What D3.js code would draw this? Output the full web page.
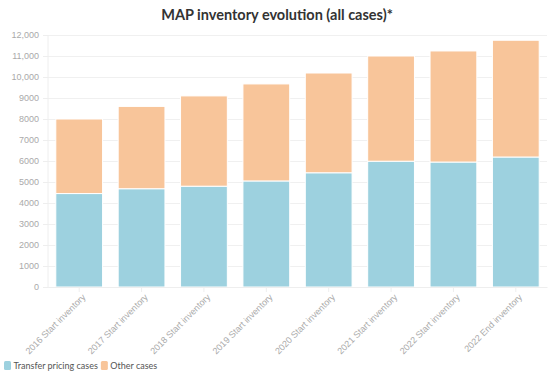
<!DOCTYPE html>
<html>
<head>
<meta charset="utf-8">
<script src="https://cdn.jsdelivr.net/npm/d3@7"></script>
<style>
  body { margin: 0; background: #fff; font-family: "Source Sans Pro", Lato, "Open Sans", sans-serif; }
  .axis text { fill: #aaa; font-size: 9px; }
  .axis path, .axis line { stroke: #eee; }
  .grid line { stroke: #f0f0f0; }
  .grid path { display: none; }
</style>
</head>
<body>
<script>
const categories = [
  "2016 Start inventory", "2017 Start inventory", "2018 Start inventory",
  "2019 Start inventory", "2020 Start inventory", "2021 Start inventory",
  "2022 Start inventory", "2022 End inventory"
];
const transferPricing = [4450, 4680, 4800, 5050, 5440, 5990, 5950, 6190];
const otherCases = [3550, 3920, 4300, 4620, 4750, 5010, 5290, 5560];
const seriesNames = ["Transfer pricing cases", "Other cases"];
const seriesColors = ["#9dd1df", "#f8c59a"];
const yTicks = [0, 1000, 2000, 3000, 4000, 5000, 6000, 7000, 8000, 9000, 10000, 11000, 12000];

const W = 554, H = 374;
const margin = { top: 35, right: 7, bottom: 87, left: 48 };
const width = W - margin.left - margin.right;
const height = H - margin.top - margin.bottom;

const svg = d3.select("body").append("svg").attr("width", W).attr("height", H);

svg.append("text")
  .attr("x", W / 2).attr("y", 20)
  .attr("text-anchor", "middle")
  .attr("font-size", 14.5).attr("font-weight", "bold").attr("fill", "#333")
  .text("MAP inventory evolution (all cases)*");

const g = svg.append("g").attr("transform", "translate(" + margin.left + "," + margin.top + ")");

const x = d3.scaleBand().domain(categories).range([0, width]).paddingInner(0.25).paddingOuter(0.125);
const y = d3.scaleLinear().domain([0, 12000]).range([height, 0]);

const fmt = (d) => (d >= 10000 ? d3.format(",")(d) : String(d));

g.append("g").attr("class", "grid")
  .call(d3.axisLeft(y).tickValues(yTicks).tickSize(-width).tickFormat(""));

const yAxis = g.append("g").attr("class", "axis")
  .call(d3.axisLeft(y).tickValues(yTicks).tickSize(5).tickPadding(4).tickFormat(fmt));
yAxis.select(".domain").remove();
g.append("line").attr("x1", 0).attr("x2", 0).attr("y1", 0).attr("y2", height).attr("stroke", "#eee");

const stack = d3.stack().keys([0, 1]).value((d, k) => d[k]);
const rows = categories.map((c, i) => [transferPricing[i], otherCases[i]]);
const layers = stack(rows);

g.selectAll(".layer").data(layers).join("g")
  .attr("fill", (d, i) => seriesColors[i])
  .selectAll("rect").data((d) => d).join("rect")
  .attr("x", (d, i) => x(categories[i]))
  .attr("width", x.bandwidth())
  .attr("y", (d) => y(d[1]))
  .attr("height", (d) => y(d[0]) - y(d[1]))
  .attr("stroke", "#fff").attr("stroke-width", 1);

const xAxis = g.append("g").attr("class", "axis")
  .attr("transform", "translate(0," + height + ")")
  .call(d3.axisBottom(x).tickSize(5).tickSizeOuter(0));
xAxis.selectAll("text")
  .attr("font-size", 9.5)
  .attr("text-anchor", "end")
  .attr("dx", "-0.3em").attr("dy", "0.5em")
  .attr("transform", "rotate(-45)");

const legend = svg.append("g").attr("transform", "translate(4," + 361 + ")");
let lx = 0;
seriesNames.forEach((name, i) => {
  const item = legend.append("g").attr("transform", "translate(" + lx + ",0)");
  item.append("rect").attr("width", 7).attr("height", 9).attr("rx", 1.5).attr("fill", seriesColors[i]);
  const t = item.append("text").attr("x", 9.5).attr("y", 8).attr("font-size", 9).attr("fill", "#555").text(name);
  lx += 9.5 + t.node().getComputedTextLength() + 3;
});
</script>
</body>
</html>
